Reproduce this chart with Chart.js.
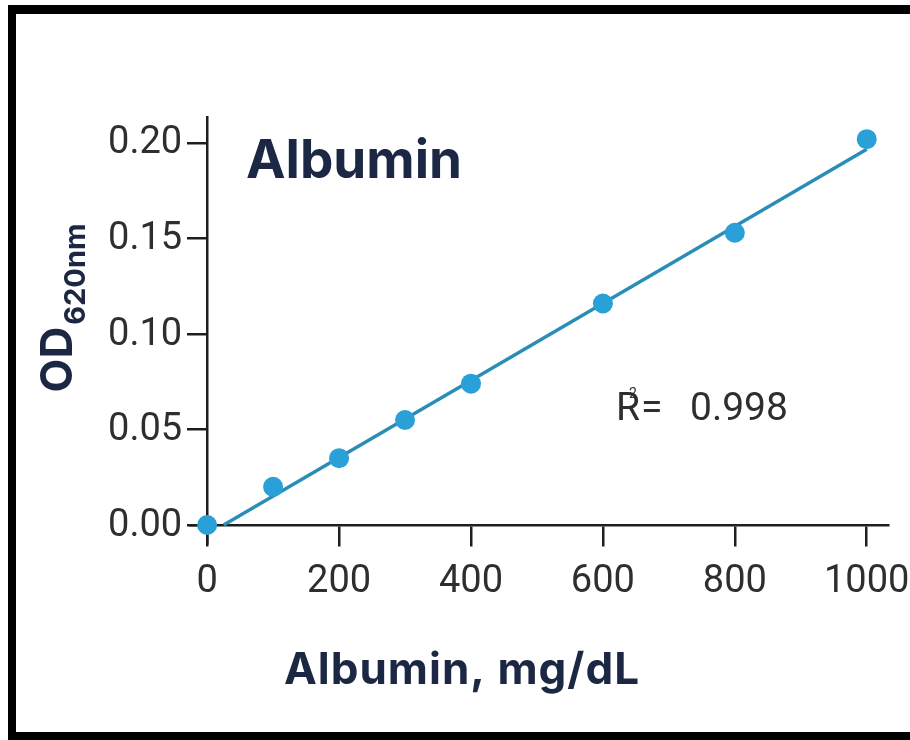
<!DOCTYPE html>
<html>
<head>
<meta charset="utf-8">
<script src="https://cdn.jsdelivr.net/npm/chart.js@4/dist/chart.umd.min.js"></script>
<style>
  html, body { margin: 0; padding: 0; background: #ffffff; }
  #wrap { position: relative; width: 910px; height: 740px; overflow: hidden; }
  #frame { position: absolute; left: 8px; top: 5px; width: 960px; height: 718px;
           border-top: 9px solid #000; border-left: 8px solid #000; border-bottom: 8px solid #000; }
  canvas { position: absolute; left: 0; top: 0; }
</style>
</head>
<body>
<div id="wrap">
  <div id="frame"></div>
  <canvas id="c" width="910" height="740"></canvas>
</div>
<script>
// ---- data ----
const concentrations = [0, 100, 200, 300, 400, 600, 800, 1000];      // mg/dL
const odValues       = [0.000, 0.020, 0.035, 0.055, 0.074, 0.116, 0.153, 0.202];
const fitX           = [25, 1000];
const fitY           = [0.000, 0.1967];
const xTicks         = [0, 200, 400, 600, 800, 1000];
const yTicks         = [0.00, 0.05, 0.10, 0.15, 0.20];
const chartLabel     = 'Albumin';
const xTitle         = 'Albumin, mg/dL';
const yTitleMain     = 'OD';
const yTitleSub      = '620nm';
const r2Value        = '0.998';

const TEXT = '#2e2e2e';
const NAVY = '#1b2743';
const AXIS = '#1e1e1e';

const textPlugin = {
  id: 'texts',
  afterDraw(chart) {
    const ctx = chart.ctx;
    const xs = chart.scales.x, ys = chart.scales.y;
    ctx.save();
    // y tick labels, placed through the scales
    ctx.fillStyle = TEXT;
    ctx.font = '38px Roboto';
    ctx.textAlign = 'right';
    ctx.textBaseline = 'middle';
    const axisX = xs.getPixelForValue(0);
    ys.ticks.forEach(t => {
      ctx.fillText(t.value.toFixed(2), axisX - 25, ys.getPixelForValue(t.value) + 1);
    });
    ctx.textBaseline = 'alphabetic';
    ctx.textAlign = 'left';
    // in-plot label
    ctx.fillStyle = NAVY;
    ctx.font = 'bold 53px Inter';
    ctx.fillText(chartLabel, 246, 178);
    // R^2 annotation
    ctx.fillStyle = TEXT;
    ctx.font = '39px Roboto';
    ctx.fillText('R', 616, 420);
    ctx.font = '14px Roboto';
    ctx.fillText('2', 629, 398);
    ctx.font = '39px Roboto';
    ctx.fillText('=', 641, 420);
    ctx.fillText(r2Value, 690, 420);
    // x title
    ctx.fillStyle = NAVY;
    ctx.font = 'bold 44px Inter';
    if ('letterSpacing' in ctx) ctx.letterSpacing = '1px';
    ctx.textAlign = 'center';
    ctx.fillText(xTitle, 462, 684);
    if ('letterSpacing' in ctx) ctx.letterSpacing = '0px';
    // y title (rotated, with subscript)
    ctx.translate(72, 0);
    ctx.rotate(-Math.PI / 2);
    ctx.textAlign = 'left';
    ctx.font = 'bold 44px Inter';
    const mw = ctx.measureText(yTitleMain).width;
    ctx.font = 'bold 29px Inter';
    const sw = ctx.measureText(yTitleSub).width;
    const total = mw + sw + 2;
    const start = -308 - total / 2;
    ctx.font = 'bold 44px Inter';
    ctx.fillText(yTitleMain, start, 0);
    ctx.font = 'bold 29px Inter';
    ctx.fillText(yTitleSub, start + mw + 2, 13);
    ctx.restore();
  }
};

new Chart(document.getElementById('c'), {
  type: 'scatter',
  data: {
    datasets: [
      {
        label: 'fit',
        type: 'line',
        data: fitX.map((x, i) => ({ x, y: fitY[i] })),
        borderColor: '#2a8db8',
        borderWidth: 3.4,
        pointRadius: 0,
        fill: false,
        order: 2
      },
      {
        label: 'Albumin',
        data: concentrations.map((x, i) => ({ x, y: odValues[i] })),
        backgroundColor: '#2aa0d8',
        borderColor: '#2aa0d8',
        borderWidth: 0,
        pointRadius: 10,
        order: 1
      }
    ]
  },
  options: {
    responsive: false,
    animation: false,
    layout: { padding: { left: 190, right: 18, top: 117, bottom: 197 } },
    plugins: { legend: { display: false }, tooltip: { enabled: false } },
    scales: {
      x: {
        type: 'linear',
        min: -26, max: 1033,
        position: { y: 0 },
        z: 1,
        afterBuildTicks: s => { s.ticks = xTicks.map(v => ({ value: v })); },
        grid: { drawOnChartArea: false, drawTicks: true, tickLength: 20, color: AXIS, lineWidth: 2.5 },
        border: { display: true, color: AXIS, width: 2.5 },
        ticks: { color: TEXT, font: { family: 'Roboto', size: 38, lineHeight: 1.95 }, padding: 0,
                 maxRotation: 0, autoSkip: false, callback: v => String(v) }
      },
      y: {
        type: 'linear',
        min: -0.0094, max: 0.2136,
        position: { x: 0 },
        z: 1,
        afterBuildTicks: s => { s.ticks = yTicks.map(v => ({ value: v })); },
        grid: { drawOnChartArea: false, drawTicks: true, tickLength: 19, color: AXIS, lineWidth: 2.5 },
        border: { display: true, color: AXIS, width: 2.5 },
        ticks: { display: false }
      }
    }
  },
  plugins: [textPlugin]
});
</script>
</body>
</html>
